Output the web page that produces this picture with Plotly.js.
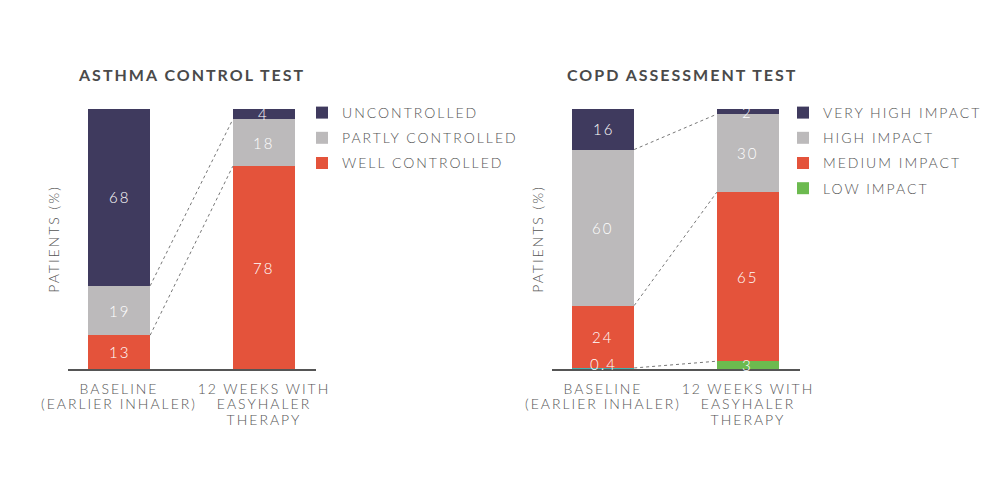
<!DOCTYPE html>
<html><head><meta charset="utf-8">
<script src="https://cdn.plot.ly/plotly-3.0.1.min.js"></script>
<style>
html,body{margin:0;padding:0;background:#fff;}
#chart{width:1000px;height:478px;}
.main-svg text{letter-spacing:2px;}
.scrollbox{clip-path:none !important;}
</style></head>
<body><div id="chart"></div>
<script>
// ---- data ----
const categories = ["BASELINE<br>(EARLIER INHALER)", "12 WEEKS WITH<br>EASYHALER<br>THERAPY"];

const actTitle = "ASTHMA CONTROL TEST";
const actSeries = ["WELL CONTROLLED", "PARTLY CONTROLLED", "UNCONTROLLED"];
const actWell = [13, 78];
const actPartly = [19, 18];
const actUncontrolled = [68, 4];

const catTitle = "COPD ASSESSMENT TEST";
const catSeries = ["LOW IMPACT", "MEDIUM IMPACT", "HIGH IMPACT", "VERY HIGH IMPACT"];
const catLow = [0.4, 3];
const catMedium = [24, 65];
const catHigh = [60, 30];
const catVeryHigh = [16, 2];

const yTitle = "PATIENTS (%)";

// ---- styles ----
const navy = "#3f3a5e", grey = "#bcbabb", red = "#e4533b", green = "#6cba4f", teal = "#41b3b1";
const txt = "#555555";
const FONT = "Lato, 'Open Sans', sans-serif";
const BW = 0.43;

const actData = [actWell, actPartly, actUncontrolled];
const actColors = [red, grey, navy];
const catData = [catLow, catMedium, catHigh, catVeryHigh];
const catColors = [[teal, green], red, grey, navy];

const traces = [];
const xs = [0, 1];
actData.forEach((vals, i) => {
  traces.push({type: "bar", x: xs, y: vals, name: actSeries[i], width: BW,
    marker: {color: actColors[i], line: {width: 0}}, xaxis: "x", yaxis: "y",
    legend: "legend", legendgroup: "a" + i, legendrank: 100 - i, hoverinfo: "skip"});
});
catData.forEach((vals, i) => {
  // low-impact series listed in reverse order so the legend swatch takes the 2nd colour
  let x = xs, y = vals, c = catColors[i];
  if (Array.isArray(c)) { x = xs.slice().reverse(); y = vals.slice().reverse(); c = c.slice().reverse(); }
  traces.push({type: "bar", x: x, y: y, name: catSeries[i], width: BW,
    marker: {color: c, line: {width: 0}}, xaxis: "x2", yaxis: "y2",
    legend: "legend2", legendgroup: "c" + i, legendrank: 100 - i, hoverinfo: "skip"});
});

// labels & connectors from data
const annotations = [];
const shapes = [];
function addLabels(data, xa, ya) {
  for (let k = 0; k < 2; k++) {
    let cum = 0;
    data.forEach(vals => {
      const v = vals[k];
      annotations.push({x: k, y: cum + v / 2, xref: xa, yref: ya, text: String(v),
        showarrow: false, font: {family: FONT, size: 15, color: "#ffffff", weight: 300},
        yshift: v < 1 ? 4 : 0});
      cum += v;
    });
  }
  let c0 = 0, c1 = 0;
  for (let s = 0; s < data.length - 1; s++) {
    c0 += data[s][0]; c1 += data[s][1];
    shapes.push({type: "line", xref: xa, yref: ya, x0: BW / 2, y0: c0, x1: 1 - BW / 2, y1: c1,
      line: {color: "#777777", width: 1, dash: "3px,3px"}});
  }
}
addLabels(actData, "x", "y");
addLabels(catData, "x2", "y2");

const H = 478, W = 1000;
const px = v => v / W, py = v => 1 - v / H;
annotations.push({text: "<b>" + actTitle + "</b>", x: px(191.5), y: py(74), xref: "paper", yref: "paper",
  xanchor: "center", yanchor: "middle", showarrow: false, font: {family: FONT, size: 16, color: "#4a4a4a"}});
annotations.push({text: "<b>" + catTitle + "</b>", x: px(682.5), y: py(74), xref: "paper", yref: "paper",
  xanchor: "center", yanchor: "middle", showarrow: false, font: {family: FONT, size: 16, color: "#4a4a4a"}});

const xCommon = {type: "linear", range: [-0.352, 1.359], tickvals: xs, ticktext: categories,
  showline: true, linecolor: "#555555", linewidth: 1.5, ticks: "", zeroline: false, showgrid: false,
  ticklabelstandoff: 7,
  tickfont: {family: FONT, size: 14, color: txt, weight: 300}, fixedrange: true};
const yCommon = {range: [0, 100], showticklabels: false, showgrid: false, zeroline: false, showline: false,
  ticks: "", title: {text: yTitle, font: {family: FONT, size: 14, color: txt, weight: 300}, standoff: 4},
  fixedrange: true};
const legCommon = {font: {family: FONT, size: 14, color: txt, weight: 300}, traceorder: "grouped",
  tracegroupgap: 4,
  bgcolor: "rgba(0,0,0,0)", xanchor: "left", yanchor: "top", itemclick: false, itemdoubleclick: false};

const layout = {
  width: W, height: H, margin: {l: 0, r: 0, t: 0, b: 0}, barmode: "stack",
  paper_bgcolor: "#ffffff", plot_bgcolor: "#ffffff", showlegend: true,
  xaxis: Object.assign({}, xCommon, {domain: [px(68), px(316)], anchor: "y"}),
  yaxis: Object.assign({}, yCommon, {domain: [py(369), py(109)], anchor: "x"}),
  xaxis2: Object.assign({}, xCommon, {domain: [px(552), px(800)], anchor: "y2"}),
  yaxis2: Object.assign({}, yCommon, {domain: [py(369), py(109)], anchor: "x2"}),
  legend: Object.assign({}, legCommon, {x: px(302), y: py(97)}),
  legend2: Object.assign({}, legCommon, {x: px(783), y: py(97)}),
  annotations: annotations, shapes: shapes, bargap: 0
};
Plotly.newPlot("chart", traces, layout, {displayModeBar: false, staticPlot: true}).then(gd => {
  // tighter line spacing for the multi-line category labels
  gd.querySelectorAll(".xtick text, .x2tick text").forEach(t => {
    t.querySelectorAll("tspan.line").forEach((ts, n) => ts.setAttribute("dy", (n * 1.08) + "em"));
  });
});
</script></body></html>
